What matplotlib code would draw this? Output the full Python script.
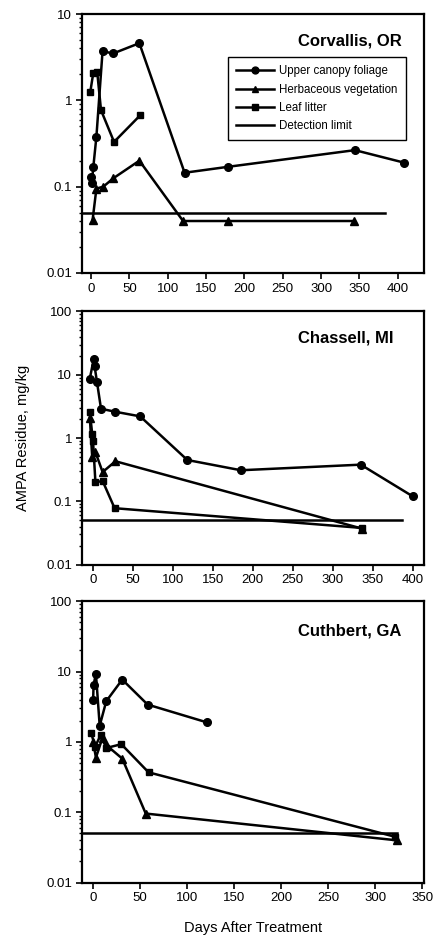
import numpy as np
import matplotlib
matplotlib.use("Agg")
import matplotlib.pyplot as plt
from matplotlib.ticker import FixedLocator, LogLocator, NullFormatter

plt.rcParams['font.family'] = ['Liberation Sans', 'DejaVu Sans']

# Corvallis, OR
cor_canopy_days = [0, 1, 3, 7, 15, 29, 63, 122, 179, 344, 408]
cor_canopy_vals = [0.13, 0.11, 0.17, 0.38, 3.7, 3.5, 4.6, 0.145, 0.17, 0.265, 0.19]
cor_herb_days = [2, 7, 16, 29, 63, 120, 179, 343]
cor_herb_vals = [0.041, 0.095, 0.10, 0.125, 0.20, 0.04, 0.04, 0.04]
cor_litter_days = [-1, 3, 8, 13, 30, 64]
cor_litter_vals = [1.25, 2.1, 2.15, 0.77, 0.33, 0.67]

# Chassell, MI
cha_canopy_days = [-4, 1, 2, 5, 10, 28, 59, 118, 185, 335, 400]
cha_canopy_vals = [8.7, 18.0, 13.5, 7.6, 2.9, 2.6, 2.2, 0.45, 0.31, 0.38, 0.12]
cha_herb_days = [-4, -1, 3, 12, 28, 337]
cha_herb_vals = [2.1, 0.5, 0.6, 0.29, 0.43, 0.037]
cha_litter_days = [-4, -1, 0, 3, 12, 27, 337]
cha_litter_vals = [2.6, 1.15, 0.9, 0.2, 0.21, 0.078, 0.038]

# Cuthbert, GA
cut_canopy_days = [0, 0.5, 3, 7, 14, 31, 58, 121]
cut_canopy_vals = [3.9, 6.5, 9.3, 1.7, 3.8, 7.7, 3.4, 1.9]
cut_herb_days = [0, 3, 10, 15, 31, 56, 323]
cut_herb_vals = [1.0, 0.6, 1.15, 0.88, 0.58, 0.096, 0.040]
cut_litter_days = [-2, 2, 8, 14, 30, 59, 321]
cut_litter_vals = [1.35, 0.85, 1.25, 0.82, 0.93, 0.37, 0.045]

detection_limit = 0.05
detection_end_days = [383, 387, 323]

site_names = ['Corvallis, OR', 'Chassell, MI', 'Cuthbert, GA']
series_labels = ['Upper canopy foliage', 'Herbaceous vegetation', 'Leaf litter', 'Detection limit']

x_ticks = [[0, 50, 100, 150, 200, 250, 300, 350, 400],
           [0, 50, 100, 150, 200, 250, 300, 350, 400],
           [0, 50, 100, 150, 200, 250, 300, 350]]
x_limits = [(-12, 434), (-14, 414), (-12, 352)]
y_limits = [(0.01, 10), (0.01, 100), (0.01, 100)]

panels = [
    (cor_canopy_days, cor_canopy_vals, cor_herb_days, cor_herb_vals, cor_litter_days, cor_litter_vals),
    (cha_canopy_days, cha_canopy_vals, cha_herb_days, cha_herb_vals, cha_litter_days, cha_litter_vals),
    (cut_canopy_days, cut_canopy_vals, cut_herb_days, cut_herb_vals, cut_litter_days, cut_litter_vals),
]

# axes boxes in figure fraction (left, bottom, width, height)
boxes = [(0.189, 0.709, 0.790, 0.276),
         (0.189, 0.398, 0.790, 0.270),
         (0.189, 0.059, 0.790, 0.300)]


def style_axis(ax, idx):
    ax.set_yscale('log')
    ax.set_xlim(*x_limits[idx])
    ax.set_ylim(*y_limits[idx])
    yt = [0.01, 0.1, 1, 10] if idx == 0 else [0.01, 0.1, 1, 10, 100]
    ax.yaxis.set_major_locator(FixedLocator(yt))
    ax.set_yticklabels(['0.01', '0.1', '1', '10', '100'][:len(yt)])
    ax.yaxis.set_minor_locator(LogLocator(base=10, subs=np.arange(2, 10)))
    ax.yaxis.set_minor_formatter(NullFormatter())
    ax.set_xticks(x_ticks[idx])
    ax.tick_params(axis='both', which='major', direction='out', length=4, width=1.2,
                   labelsize=9.5, pad=3)
    ax.tick_params(axis='y', which='minor', direction='out', length=2.5, width=1)
    for s in ax.spines.values():
        s.set_linewidth(1.6)


fig = plt.figure(figsize=(4.33, 9.38), dpi=100)
line_kw = dict(color='black', linewidth=1.8)

for i, (cd, cv, hd, hv, ld, lv) in enumerate(panels):
    ax = fig.add_axes(boxes[i])
    ax.plot(cd, cv, marker='o', markersize=5.5, label=series_labels[0], **line_kw)
    ax.plot(hd, hv, marker='^', markersize=5.5, label=series_labels[1], **line_kw)
    ax.plot(ld, lv, marker='s', markersize=5, label=series_labels[2], **line_kw)
    ax.plot([x_limits[i][0], detection_end_days[i]], [detection_limit, detection_limit],
            label=series_labels[3], **line_kw)
    style_axis(ax, i)
    ax.text(0.935 if i != 1 else 0.91, 0.895, site_names[i], transform=ax.transAxes,
            ha='right', va='center', fontsize=12, fontweight='bold')
    if i == 0:
        leg = ax.legend(loc='upper left', bbox_to_anchor=(0.426, 0.833), fontsize=8.3,
                        frameon=True, fancybox=False, edgecolor='black', framealpha=1,
                        handlelength=3.3, labelspacing=0.55, borderpad=0.7,
                        handletextpad=0.5, borderaxespad=0, markerscale=0.9)
        leg.get_frame().set_linewidth(1.0)
    if i == 1:
        ax.set_ylabel('AMPA Residue, mg/kg', fontsize=10.5, labelpad=12)
    if i == 2:
        ax.set_xlabel('Days After Treatment', fontsize=10.5, labelpad=12)

fig.savefig('out.png', dpi=100)
